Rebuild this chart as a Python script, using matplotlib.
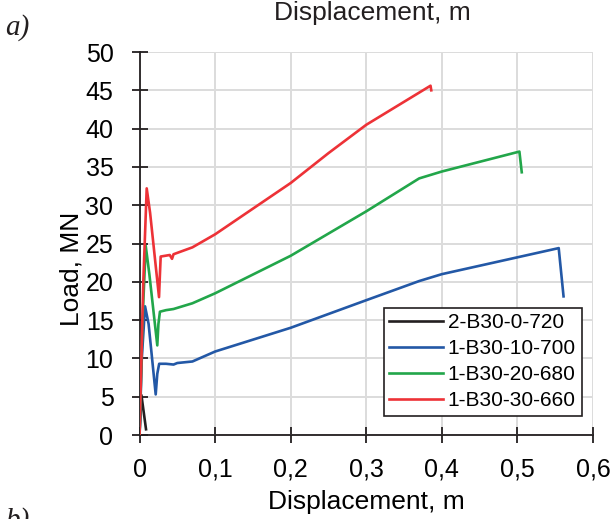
import matplotlib.pyplot as plt

# Load-displacement curves
x_b0 = [0, 0.0025, 0.0086]
y_b0 = [0, 5.2, 0.75]

x_b10 = [0, 0.003, 0.0073, 0.012, 0.0214, 0.0235, 0.026, 0.035, 0.045, 0.05,
         0.07, 0.1, 0.2, 0.3, 0.37, 0.4, 0.5546, 0.561]
y_b10 = [0, 10, 16.8, 14.5, 5.3, 8.0, 9.3, 9.3, 9.2, 9.4,
         9.6, 10.9, 14.0, 17.6, 20.1, 21.0, 24.4, 18.1]

x_b20 = [0, 0.004, 0.0082, 0.013, 0.0235, 0.025, 0.027, 0.035, 0.045, 0.07,
         0.1, 0.2, 0.3, 0.37, 0.4, 0.5026, 0.5057]
y_b20 = [0, 15, 24.7, 21, 11.7, 14.5, 16.1, 16.3, 16.45, 17.2,
         18.5, 23.4, 29.2, 33.5, 34.4, 37.0, 34.3]

x_b30 = [0, 0.005, 0.0095, 0.014, 0.0258, 0.027, 0.028, 0.04, 0.043, 0.045,
         0.07, 0.1, 0.2, 0.25, 0.3, 0.35, 0.385, 0.386]
y_b30 = [0, 20, 32.2, 29, 18.0, 21, 23.3, 23.5, 23.0, 23.6,
         24.5, 26.2, 32.9, 36.8, 40.5, 43.5, 45.6, 45.0]

labels = ["2-B30-0-720", "1-B30-10-700", "1-B30-20-680", "1-B30-30-660"]
colors = ["#231f20", "#2358a6", "#22a64a", "#ed3237"]

xticks = [0, 0.1, 0.2, 0.3, 0.4, 0.5, 0.6]
xtick_labels = ["0", "0,1", "0,2", "0,3", "0,4", "0,5", "0,6"]
yticks = list(range(0, 55, 5))

plt.rcParams["font.family"] = "Liberation Sans"

fig = plt.figure(figsize=(6.16, 5.19), dpi=100)
ax = fig.add_axes([0.2265, 0.1618, 0.9627 - 0.2265, 0.8998 - 0.1618])

series = [(x_b0, y_b0), (x_b10, y_b10), (x_b20, y_b20), (x_b30, y_b30)]
for (xs, ys), lab, c in zip(series, labels, colors):
    ax.plot(xs, ys, color=c, lw=1.9, label=lab, solid_joinstyle="round")

ax.set_xlim(0, 0.6)
ax.set_ylim(0, 50)
ax.set_xticks(xticks)
ax.set_xticklabels(xtick_labels)
ax.set_yticks(yticks)
ax.grid(True, color="#dcdcdc", lw=1.4)
ax.set_axisbelow(True)

for s in ["top", "right"]:
    ax.spines[s].set_visible(False)
for s in ["left", "bottom"]:
    ax.spines[s].set_color("#231f20")
    ax.spines[s].set_linewidth(1.3)
    ax.spines[s].set_zorder(1.5)

ax.tick_params(axis="x", direction="inout", length=11.5, width=1.3,
               color="#231f20", labelsize=18, pad=10.5)
ax.tick_params(axis="y", direction="inout", length=11.5, width=1.3,
               color="#231f20", labelsize=18, pad=13)

ax.set_xlabel("Displacement, m", fontsize=19, labelpad=6)
ax.set_ylabel("Load, MN", fontsize=19)
ax.yaxis.set_label_coords(-0.1225, 0.433)

leg = ax.legend(loc="lower right", bbox_to_anchor=(0.975, 0.05),
                fontsize=15, frameon=True, fancybox=False,
                handlelength=2.55, handletextpad=0.25, borderpad=0.28,
                labelspacing=0.33, borderaxespad=0)
leg.get_frame().set_edgecolor("#231f20")
leg.get_frame().set_linewidth(1.2)
leg.get_frame().set_alpha(1)

# pieces of the neighbouring panels
fig.text(372 / 616, 1 - 20 / 519, "Displacement, m", fontsize=19,
         ha="center", va="baseline", color="#231f20")
fig.text(0.009, 1 - 35 / 519, "a)", fontsize=21, style="italic",
         family="Liberation Serif", va="baseline", color="#231f20")
fig.text(0.009, 1 - 507 / 519, "b)", fontsize=21, style="italic",
         family="Liberation Serif", va="top", color="#231f20")

fig.savefig("out.png", dpi=100)
